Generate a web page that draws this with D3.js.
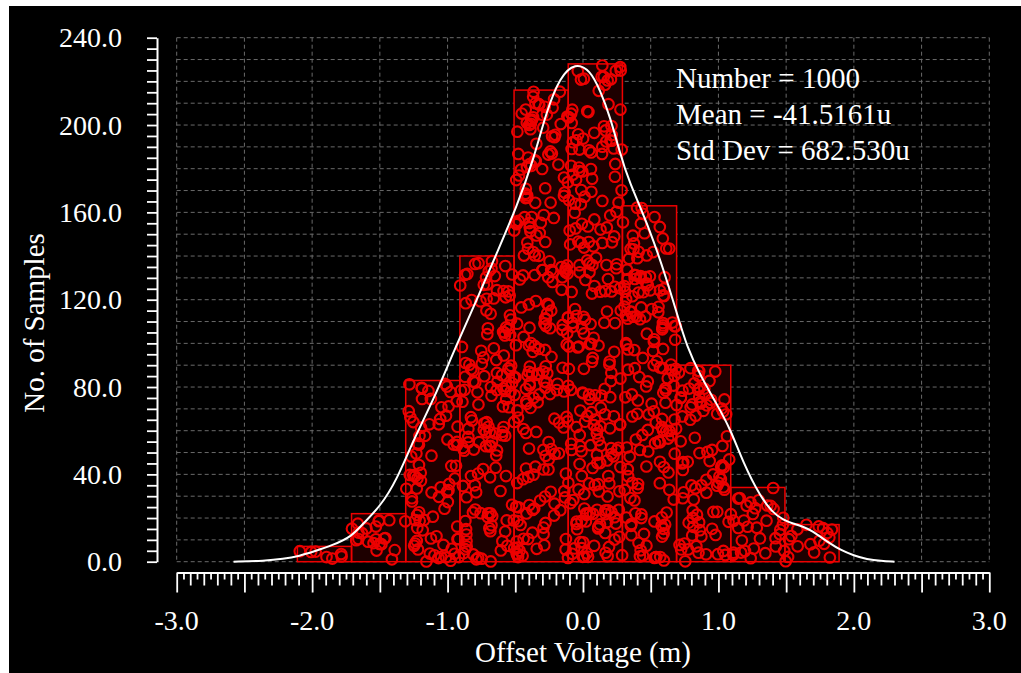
<!DOCTYPE html>
<html>
<head>
<meta charset="utf-8">
<script src="https://cdn.jsdelivr.net/npm/d3@7"></script>
<style>
  html, body { margin: 0; padding: 0; background: #fff; }
  svg { display: block; }
  text { font-family: "Liberation Serif", "Times New Roman", serif; fill: #fff; }
</style>
</head>
<body>
<svg id="chart" width="1021" height="673"></svg>
<script>
// ---- data ----
const binEdges = [-2.109, -1.709, -1.309, -0.909, -0.509, -0.109, 0.291, 0.691, 1.091, 1.491, 1.891];
const binCounts = [7, 22, 83, 140, 216, 228, 163, 90, 34, 17];

const curveX = [-2.58, -2.35, -2.216, -2.089, -1.991, -1.85, -1.708, -1.622, -1.499, -1.375, -1.253, -1.105,
                -0.95, -0.784, -0.637, -0.489, -0.366, -0.267, -0.169, -0.058, 0.052, 0.126, 0.200, 0.274,
                0.335, 0.496, 0.619, 0.693, 0.767, 0.865, 0.98, 1.087, 1.185, 1.308, 1.40, 1.48, 1.55, 1.628,
                1.70, 1.751, 1.82, 1.899, 2.0, 2.096, 2.20, 2.30];
const curveY = [0, 0.4, 1.2, 2.7, 4.6, 7.5, 11.5, 17.6, 25.2, 37.4, 55.7, 74,
                97, 120, 141.3, 162.6, 184, 206.9, 222.1, 228.6, 225.2, 216, 203.8, 187,
                174.8, 151.9, 129, 113.8, 98.5, 85.5, 73, 61.0, 45, 30, 22.5, 19.1, 17.5, 16.0,
                13.8, 11.5, 8.5, 5.4, 2.8, 1.1, 0.3, 0];

const xTickLabels = [-3, -2, -1, 0, 1, 2, 3];
const yTickLabels = [0, 40, 80, 120, 160, 200, 240];
const statsLines = ["Number = 1000", "Mean = -41.5161u", "Std Dev = 682.530u"];
const xTitle = "Offset Voltage (m)";
const yTitle = "No. of Samples";

// ---- layout ----
const svg = d3.select("#chart");
const W = 1021, H = 673;
const x = d3.scaleLinear().domain([-3, 3]).range([176.7, 989.3]);
const y = d3.scaleLinear().domain([0, 240]).range([561.7, 37.7]);
const red = "#ee0000";

svg.append("rect").attr("width", W).attr("height", H).attr("fill", "#fff");
svg.append("rect").attr("x", 9).attr("y", 6).attr("width", W - 9).attr("height", H - 6).attr("fill", "#000");

// grid
const grid = svg.append("g").attr("stroke", "#6a6a6a").attr("stroke-width", 1).attr("stroke-dasharray", "4,3");
grid.selectAll("line.v").data(d3.range(-6, 7).map(i => i * 0.5)).join("line")
  .attr("x1", d => x(d)).attr("x2", d => x(d)).attr("y1", y(240)).attr("y2", y(0));
grid.selectAll("line.h").data(d3.range(0, 241, 10)).join("line")
  .attr("x1", x(-3)).attr("x2", x(3)).attr("y1", d => y(d)).attr("y2", d => y(d));

// bars (fill)
const bins = binCounts.map((c, i) => ({x0: binEdges[i], x1: binEdges[i + 1], n: c, i}));
svg.append("g").selectAll("rect").data(bins).join("rect")
  .attr("x", d => x(d.x0)).attr("width", d => x(d.x1) - x(d.x0))
  .attr("y", d => y(d.n)).attr("height", d => y(0) - y(d.n))
  .attr("fill", "#1e0000");

// sample markers: deterministic hashed placement of each bin's samples inside its bar
function hash01(a, b) {
  let h = Math.imul(a + 0x9e3779b9, 0x85ebca6b) ^ Math.imul(b + 0x7f4a7c15, 0xc2b2ae35);
  h ^= h >>> 15; h = Math.imul(h, 0x2c1b3c6d);
  h ^= h >>> 12; h = Math.imul(h, 0x297a2d39);
  h ^= h >>> 15;
  return (h >>> 0) / 4294967296;
}
const pts = [];
bins.forEach(b => {
  for (let k = 0; k < b.n; k++) {
    const u = hash01(b.i * 1000 + k, 17);
    const v = hash01(b.i * 1000 + k, 91);
    pts.push({vx: b.x0 + u * (b.x1 - b.x0), vy: v * b.n});
  }
});
svg.append("g").selectAll("circle").data(pts).join("circle")
  .attr("cx", d => x(d.vx)).attr("cy", d => y(d.vy)).attr("r", 5.3)
  .attr("fill", "none").attr("stroke", red).attr("stroke-width", 2.1);

// bar outlines
svg.append("g").selectAll("rect").data(bins).join("rect")
  .attr("x", d => x(d.x0)).attr("width", d => x(d.x1) - x(d.x0))
  .attr("y", d => y(d.n)).attr("height", d => y(0) - y(d.n))
  .attr("fill", "none").attr("stroke", red).attr("stroke-width", 1.5);

// density curve
const curvePts = curveX.map((v, i) => [v, curveY[i]]);
svg.append("path").datum(curvePts)
  .attr("d", d3.line().x(d => x(d[0])).y(d => y(d[1])).curve(d3.curveBasis))
  .attr("fill", "none").attr("stroke", "#fff").attr("stroke-width", 2);

// y axis
const yAxisG = svg.append("g").attr("transform", "translate(157,0)")
  .call(d3.axisLeft(y).tickValues(d3.range(0, 241, 5)).tickSize(10).tickSizeOuter(0).tickFormat(""));
yAxisG.select(".domain").attr("stroke", "#fff").attr("stroke-width", 2);
yAxisG.selectAll(".tick line").attr("stroke", "#fff").attr("stroke-width", 1.8);
svg.append("g").selectAll("text").data(yTickLabels).join("text")
  .attr("x", 122).attr("y", d => y(d)).attr("dy", "0.34em")
  .attr("text-anchor", "end").attr("font-size", 28)
  .text(d => d.toFixed(1));

// x axis
const xTicks = d3.range(-60, 61).map(i => i * 0.05);
const xAxisG = svg.append("g").attr("transform", "translate(0,572.5)")
  .call(d3.axisBottom(x).tickValues(xTicks).tickSize(7).tickSizeOuter(0).tickFormat(""));
xAxisG.select(".domain").attr("stroke", "#fff").attr("stroke-width", 2);
xAxisG.selectAll(".tick line").attr("stroke", "#fff").attr("stroke-width", 1.8)
  .attr("y2", (d, i) => (i % 10 === 0 ? 20 : (i % 2 === 0 ? 13 : 7)));
svg.append("g").selectAll("text").data(xTickLabels).join("text")
  .attr("x", d => x(d)).attr("y", 630)
  .attr("text-anchor", "middle").attr("font-size", 28)
  .text(d => d.toFixed(1));

// titles
svg.append("text").attr("x", (x(-3) + x(3)) / 2).attr("y", 662)
  .attr("text-anchor", "middle").attr("font-size", 29).text(xTitle);
svg.append("text").attr("transform", "translate(44,323) rotate(-90)")
  .attr("text-anchor", "middle").attr("font-size", 29).text(yTitle);

// stats
svg.append("g").selectAll("text").data(statsLines).join("text")
  .attr("x", 676).attr("y", (d, i) => 88 + i * 36)
  .attr("font-size", 29).text(d => d);
</script>
</body>
</html>
